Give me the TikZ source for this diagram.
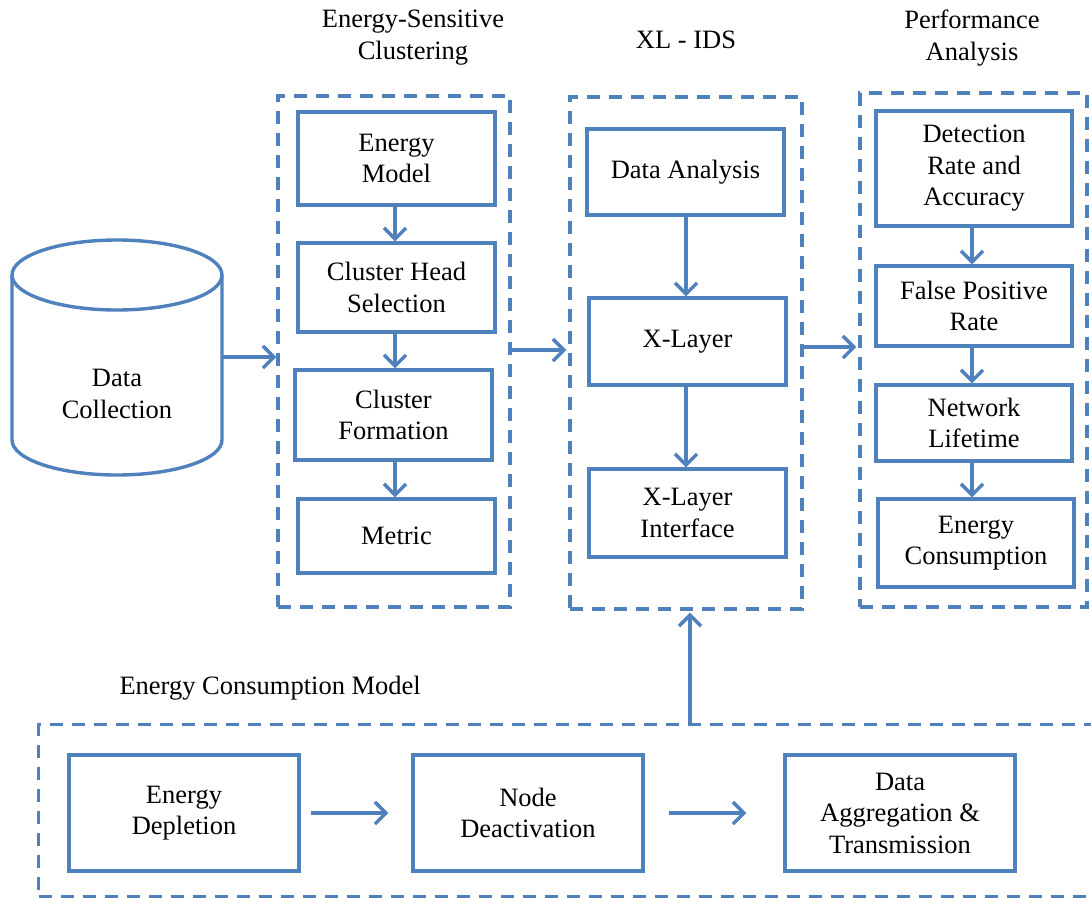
\documentclass[tikz,border=0pt]{standalone}
\usepackage{fontspec}
\setmainfont{Liberation Serif}
\usetikzlibrary{arrows.meta}
\definecolor{frame}{HTML}{4F81BD}
\tikzset{
  x=1pt, y=-1pt,
  every node/.style={font=\fontsize{26.5}{31.5}\selectfont, text=black},
  stepbox/.style={draw=frame, line width=3.4pt, align=center, inner sep=0pt},
  group/.style={draw=frame, line width=3.4pt, dash pattern=on 13pt off 9pt},
  flow/.style={draw=frame, line width=3.4pt, -{Straight Barb[length=11pt,width=22pt,line width=3.4pt]}},
  title/.style={align=center, font=\fontsize{26.5}{32}\selectfont},
}
\begin{document}
\begin{tikzpicture}
\useasboundingbox (0,0) rectangle (1091,897);

% group frames
\node[group, minimum width=232pt, minimum height=511pt] (esc) at (394,351.5) {};
\node[group, minimum width=232pt, minimum height=512pt] (xl) at (686,353) {};
\node[group, minimum width=227pt, minimum height=514pt] (pa) at (973.5,350) {};
\node[group, minimum width=1070pt, minimum height=172pt, anchor=north west] (ecm) at (37,723) {};

% titles
\node[title] (tesc) at (413,38) {Energy-Sensitive\\Clustering};
\node[title] (txl) at (686,40) {XL - IDS};
\node[title] (tpa) at (972,38) {Performance\\Analysis};
\node[anchor=west] (tecm) at (116,688) {Energy Consumption Model};

% data store
\draw[frame, line width=3.4pt, fill=white]
  (12,275) -- (12,440) arc[start angle=180, end angle=0, x radius=105, y radius=35]
  -- (222,275);
\draw[frame, line width=3.4pt] (117,275) ellipse[x radius=105, y radius=35];
\node[align=center] (dc) at (117,394) {Data\\Collection};
\coordinate (dcr) at (222,357);

% energy-sensitive clustering
\node[stepbox, minimum width=197pt, minimum height=93pt] (em) at (396.5,158.5) {Energy\\Model};
\node[stepbox, minimum width=197pt, minimum height=89pt] (chs) at (396.5,287.5) {Cluster Head\\Selection};
\node[stepbox, minimum width=197pt, minimum height=90pt] (cf) at (393.5,415) {Cluster\\Formation};
\node[stepbox, minimum width=197pt, minimum height=74pt] (met) at (396.5,536) {Metric};

% XL-IDS
\node[stepbox, minimum width=197pt, minimum height=86pt] (da) at (685.5,172) {Data Analysis};
\node[stepbox, minimum width=197pt, minimum height=87pt] (xlay) at (687.5,341.5) {X-Layer};
\node[stepbox, minimum width=197pt, minimum height=88pt] (xli) at (687.5,513) {X-Layer\\Interface};

% performance analysis
\node[stepbox, minimum width=196pt, minimum height=115pt] (dra) at (974,168.5) {Detection\\Rate and\\Accuracy};
\node[stepbox, minimum width=196pt, minimum height=80pt] (fpr) at (974,306) {False Positive\\Rate};
\node[stepbox, minimum width=196pt, minimum height=76pt] (nl) at (974,423) {Network\\Lifetime};
\node[stepbox, minimum width=196pt, minimum height=88pt] (ec) at (976,543) {Energy\\Consumption};

% energy consumption model
\node[stepbox, minimum width=230pt, minimum height=116pt] (ed) at (184,813) {Energy\\Depletion};
\node[stepbox, minimum width=230pt, minimum height=116pt] (nd) at (528,813) {Node\\Deactivation};
\node[stepbox, minimum width=230pt, minimum height=116pt] (dat) at (900,813) {Data\\Aggregation \&\\Transmission};

% connectors
\draw[flow] (dcr) -- (dcr -| esc.west);
\draw[flow] (395,0 |- em.south) -- (395,0 |- chs.north);
\draw[flow] (395,0 |- chs.south) -- (395,0 |- cf.north);
\draw[flow] (395,0 |- cf.south) -- (395,0 |- met.north);

\draw[flow, shorten >=2pt] (esc.east |- 0,350) -- (xl.west |- 0,350);
\draw[flow] (686,0 |- da.south) -- (686,0 |- xlay.north);
\draw[flow] (686,0 |- xlay.south) -- (686,0 |- xli.north);

\draw[flow, shorten >=2pt] (xl.east |- 0,347) -- (pa.west |- 0,347);
\draw[flow] (972,0 |- dra.south) -- (972,0 |- fpr.north);
\draw[flow] (972,0 |- fpr.south) -- (972,0 |- nl.north);
\draw[flow] (972,0 |- nl.south) -- (972,0 |- ec.north);

\coordinate (up) at (690,723);
\draw[flow, shorten >=2pt] (up) -- (up |- xl.south);

\draw[flow] ([xshift=10pt]ed.east) -- ([xshift=-23pt]nd.west);
\draw[flow] ([xshift=24pt]nd.east) -- ([xshift=-37pt]dat.west);
\end{tikzpicture}
\end{document}
